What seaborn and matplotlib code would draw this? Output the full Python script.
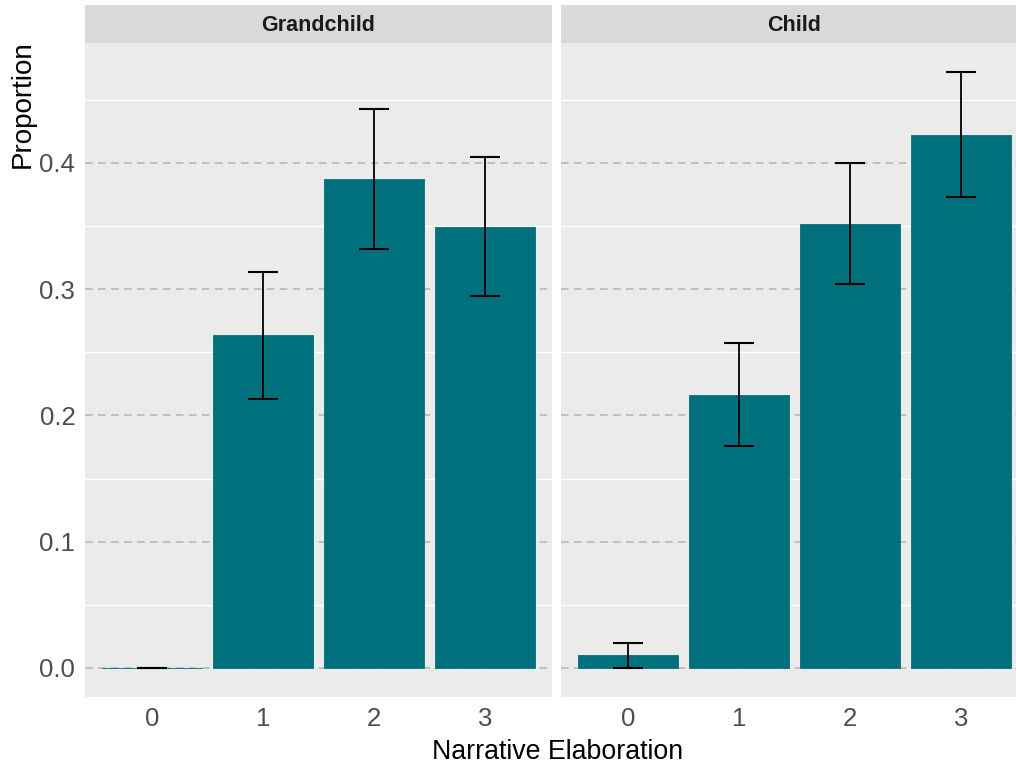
import matplotlib
matplotlib.use("Agg")
import matplotlib.pyplot as plt
import seaborn as sns
import numpy as np
import pandas as pd

# Data
panels = ["Grandchild", "Child"]
categories = ["0", "1", "2", "3"]
grandchild_vals = [0.0, 0.264, 0.387, 0.349]
grandchild_lo = [0.0, 0.213, 0.332, 0.295]
grandchild_hi = [0.0, 0.314, 0.443, 0.405]
child_vals = [0.010, 0.216, 0.352, 0.422]
child_lo = [0.0, 0.176, 0.304, 0.373]
child_hi = [0.020, 0.257, 0.400, 0.472]
y_ticks = [0.0, 0.1, 0.2, 0.3, 0.4]
y_minor = [0.05, 0.15, 0.25, 0.35, 0.45]

sns.set_theme(style="white")
plt.rcParams["font.family"] = ["Liberation Sans", "DejaVu Sans"]

BAR = "#00707c"
fig = plt.figure(figsize=(10.16, 7.64), dpi=100)
W, H = 1016, 764
left0, gap = 85, 9
pw = 467
ptop, pbot = 43, 697
strip_top = 5

series = [(grandchild_vals, grandchild_lo, grandchild_hi),
          (child_vals, child_lo, child_hi)]
for i, (name, (vals, lo, hi)) in enumerate(zip(panels, series)):
    x0 = left0 + i * (pw + gap)
    ax = fig.add_axes([x0 / W, (H - pbot) / H, pw / W, (pbot - ptop) / H])
    ax.set_facecolor("#ebebeb")
    df = pd.DataFrame({"cat": categories, "val": vals})
    sns.barplot(data=df, x="cat", y="val", ax=ax, color=BAR, width=0.9,
                saturation=1, errorbar=None, zorder=3, edgecolor=BAR, linewidth=0.6)
    xs = np.arange(len(categories))
    v = np.array(vals)
    ax.errorbar(xs, v, yerr=[v - np.array(lo), np.array(hi) - v], fmt="none",
                ecolor="black", elinewidth=1.3, capsize=11, capthick=1.5, zorder=4)
    ax.set_xlim(-0.6, 3.6)
    ax.set_ylim(-0.023, 0.495)
    ax.set_yticks(y_ticks)
    ax.set_yticks(y_minor, minor=True)
    for y in y_minor:
        ax.axhline(y, color="white", lw=1.0, zorder=1)
    for y in y_ticks:
        ax.axhline(y, color="#b3b3b3", lw=1.1, ls=(0, (5, 3.5)), zorder=2)
    for s in ax.spines.values():
        s.set_visible(False)
    ax.tick_params(axis="both", which="major", length=4, color="#333333",
                   labelsize=18.5, labelcolor="#4d4d4d", width=0.8, pad=3)
    ax.tick_params(axis="both", which="minor", length=0)
    ax.set_xlabel("")
    ax.set_ylabel("")
    if i == 0:
        ax.set_yticklabels([f"{t:.1f}" for t in y_ticks])
    else:
        ax.tick_params(axis="y", which="major", length=0, labelleft=False)
    # strip
    sax = fig.add_axes([x0 / W, (H - ptop) / H, pw / W, (ptop - strip_top) / H])
    sax.set_facecolor("#d9d9d9")
    sax.set_xticks([]); sax.set_yticks([])
    for s in sax.spines.values():
        s.set_visible(False)
    sax.text(0.5, 0.47, name, ha="center", va="center", fontsize=15.5,
             fontweight="bold", color="#1a1a1a", transform=sax.transAxes)

fig.text(558 / W, (H - 759) / H, "Narrative Elaboration",
         ha="center", va="baseline", fontsize=19.3, color="black")
fig.text(10 / W, (H - 104) / H, "Proportion", rotation=90,
         ha="left", va="center", fontsize=20, color="black")

fig.savefig("out.png", dpi=100)
